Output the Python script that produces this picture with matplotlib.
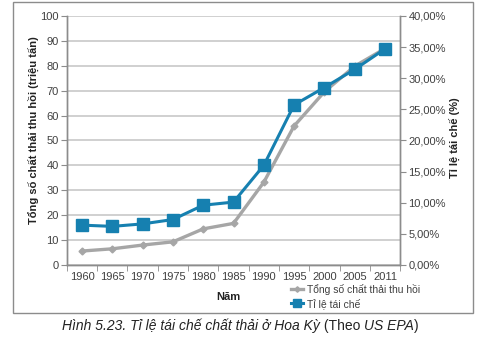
import matplotlib
matplotlib.use("Agg")
import matplotlib.pyplot as plt
from matplotlib.patches import Rectangle
from matplotlib.ticker import FuncFormatter

plt.rcParams['font.family'] = ['Liberation Sans', 'DejaVu Sans']

years = ["1960", "1965", "1970", "1975", "1980", "1985", "1990", "1995", "2000", "2005", "2011"]
tong_so = [5.6, 6.5, 8.0, 9.3, 14.5, 16.7, 33.2, 55.8, 69.5, 79.8, 86.9]   # triệu tấn
ti_le = [6.4, 6.2, 6.6, 7.3, 9.6, 10.1, 16.0, 25.7, 28.5, 31.4, 34.7]      # %

gray = "#a6a6a6"
blue = "#1680b0"
axis_col = "#8c8c8c"
txt_col = "#404040"

fig = plt.figure(figsize=(4.78, 3.38), dpi=100)
ax = fig.add_axes([0.140, 0.216, 0.697, 0.737])
ax2 = ax.twinx()

x = list(range(len(years)))
l1, = ax.plot(x, tong_so, color=gray, lw=2.4, marker="D", markersize=3.5, zorder=3)
l2, = ax2.plot(x, ti_le, color=blue, lw=2.2, marker="s", markersize=8, zorder=4)

ax.set_xlim(-0.5, len(years) - 0.5)
ax.set_ylim(0, 100)
ax.set_yticks(range(0, 101, 10))
ax2.set_ylim(0, 40)
ax2.set_yticks(range(0, 41, 5))
ax2.yaxis.set_major_formatter(FuncFormatter(lambda v, p: f"{v:.2f}%".replace(".", ",")))

ax.set_xticks(x)
ax.set_xticklabels(years)
ax.set_xticks([i - 0.5 for i in range(len(years) + 1)], minor=True)
ax.tick_params(axis="x", which="major", length=0, pad=5, labelsize=8, labelcolor=txt_col)
ax.tick_params(axis="x", which="minor", length=4, color=axis_col, direction="out")
ax.tick_params(axis="y", length=4, color=axis_col, labelsize=8, labelcolor=txt_col, pad=2)
ax2.tick_params(axis="y", length=4, color=axis_col, labelsize=8, labelcolor=txt_col, pad=2)

ax.grid(axis="y", color="#c8c8c8", lw=1.2)
ax.set_axisbelow(True)
for a in (ax, ax2):
    a.spines["top"].set_visible(False)
    for s in ("left", "right", "bottom"):
        a.spines[s].set_color(axis_col)
        a.spines[s].set_linewidth(1)

ax.set_ylabel("Tổng số chất thải thu hồi (triệu tấn)", fontsize=8, fontweight="bold", color="#222222")
ax.yaxis.set_label_coords(-0.085, 0.54)
ax2.set_ylabel("Tỉ lệ tái chế (%)", fontsize=8, fontweight="bold", color="#222222")
ax2.yaxis.set_label_coords(1.149, 0.51)
ax.set_xlabel("Năm", fontsize=8, fontweight="bold", color="#222222")
ax.xaxis.set_label_coords(0.485, -0.11)

fig.legend([l1, l2], ["Tổng số chất thải thu hồi", "Tỉ lệ tái chế"],
           loc="upper left", bbox_to_anchor=(0.597, 0.175), frameon=False,
           fontsize=7.5, handlelength=1.2, handletextpad=0.4, labelspacing=0.3,
           borderpad=0, labelcolor=txt_col, markerscale=0.8)

fig.patches.append(Rectangle((0.027, 0.074), 0.962, 0.920, transform=fig.transFigure,
                             fill=False, edgecolor=axis_col, lw=1))

# caption with mixed italic / normal parts
parts = [("Hình 5.23. Tỉ lệ tái chế chất thải ở Hoa Kỳ", "italic"), (" (Theo ", "normal"),
         ("US EPA", "italic"), (")", "normal")]
fig.canvas.draw()
r = fig.canvas.get_renderer()
tmp = [fig.text(0, 0, s, fontsize=10, style=st) for s, st in parts]
widths = [t.get_window_extent(r).width for t in tmp]
for t in tmp:
    t.remove()
xpos = (480 - sum(widths)) / 2
for (s, st), w in zip(parts, widths):
    fig.text(xpos / 478, 0.036, s, fontsize=10, style=st, color="#222222", va="center")
    xpos += w

fig.savefig("out.png", dpi=100)
